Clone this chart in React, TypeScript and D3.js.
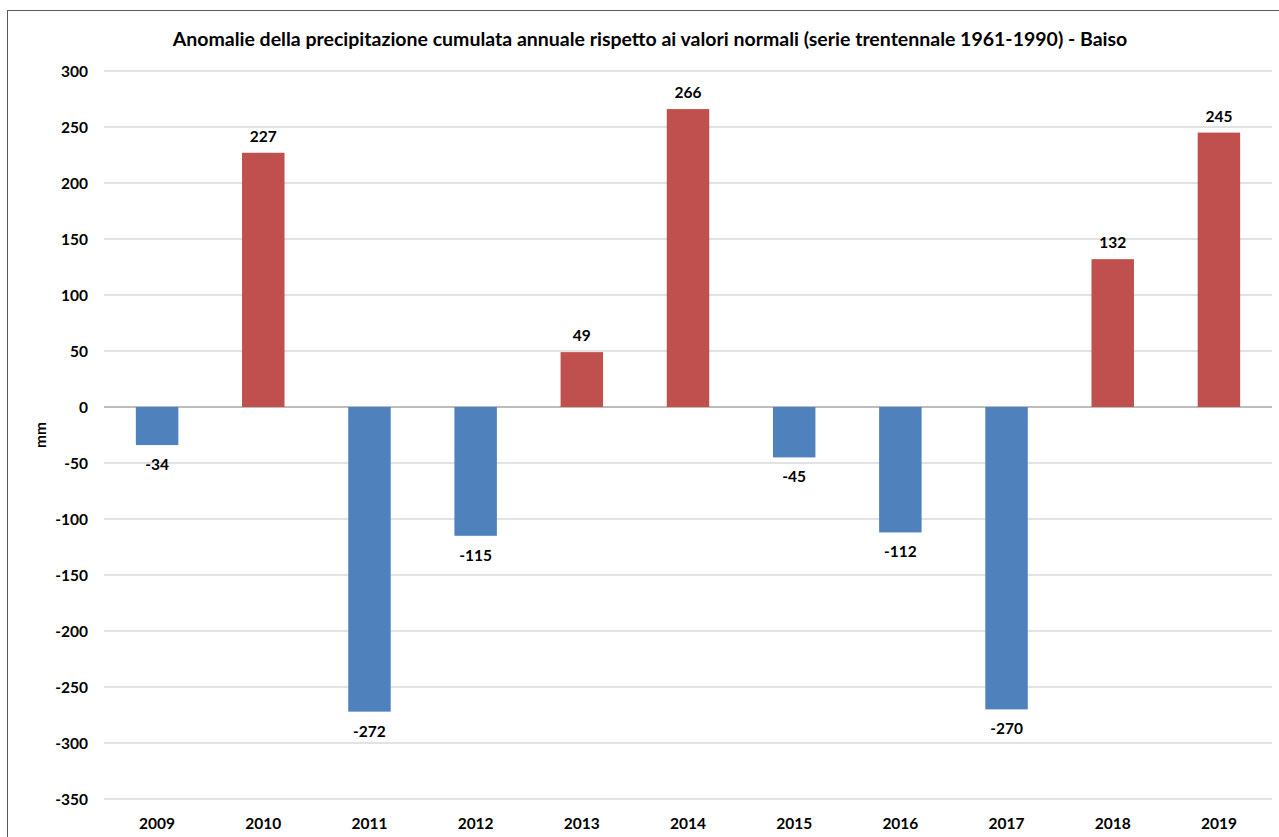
import * as d3 from 'd3';
import React from 'react';

const years = ['2009', '2010', '2011', '2012', '2013', '2014', '2015', '2016', '2017', '2018', '2019'];
const anomalies = [-34, 227, -272, -115, 49, 266, -45, -112, -270, 132, 245];
const yTicks = [300, 250, 200, 150, 100, 50, 0, -50, -100, -150, -200, -250, -300, -350];

const title = 'Anomalie della precipitazione cumulata annuale rispetto ai valori normali (serie trentennale 1961-1990) - Baiso';

export default function App() {
  const width = 1279;
  const height = 837;
  const plotLeft = 104;
  const plotRight = 1272;
  const font = 'Lato, "Open Sans", sans-serif';
  const fs = 15.5;

  const xScale = d3.scaleBand().domain(years).range([plotLeft, plotRight]).paddingInner(0.6).paddingOuter(0.3);
  const yScale = d3.scaleLinear().domain([-350, 300]).range([799, 71]);

  return (
    <svg width={width} height={height} style={{ position: 'absolute', left: 0, top: 0 }}>
      <rect x={0} y={0} width={width} height={height} fill="#fff" />
      <rect x={7.5} y={10.5} width={1300} height={900} fill="none" stroke="#595959" strokeWidth={1} />
      <text x={650} y={46} textAnchor="middle" fontFamily={font} fontWeight="bold" fontSize={19.5} fill="#000">
        {title}
      </text>
      {yTicks.map((t) => (
        <g key={t}>
          <line
            x1={plotLeft}
            x2={plotRight}
            y1={yScale(t)}
            y2={yScale(t)}
            stroke={t === 0 ? '#a6a6a6' : '#d9d9d9'}
            strokeWidth={1.5}
          />
          <text x={88} y={yScale(t) + 5.5} textAnchor="end" fontFamily={font} fontWeight="bold" fontSize={fs} fill="#000">
            {t}
          </text>
        </g>
      ))}
      <text
        transform={`translate(46,${yScale(-25)}) rotate(-90)`}
        textAnchor="middle"
        fontFamily={font}
        fontWeight="bold"
        fontSize={fs}
        fill="#000"
      >
        mm
      </text>
      {years.map((yr, i) => {
        const v = anomalies[i];
        const x = xScale(yr) as number;
        const w = xScale.bandwidth();
        const y0 = yScale(0);
        const y1 = yScale(v);
        const cx = x + w / 2;
        return (
          <g key={yr}>
            <rect
              x={x}
              y={Math.min(y0, y1)}
              width={w}
              height={Math.abs(y1 - y0)}
              fill={v >= 0 ? '#C0504D' : '#4F81BD'}
            />
            <text
              x={cx}
              y={v >= 0 ? y1 - 11 : y1 + 25}
              textAnchor="middle"
              fontFamily={font}
              fontWeight="bold"
              fontSize={fs}
              fill="#000"
            >
              {v}
            </text>
            <text x={cx} y={829} textAnchor="middle" fontFamily={font} fontWeight="bold" fontSize={fs} fill="#000">
              {yr}
            </text>
          </g>
        );
      })}
    </svg>
  );
}
